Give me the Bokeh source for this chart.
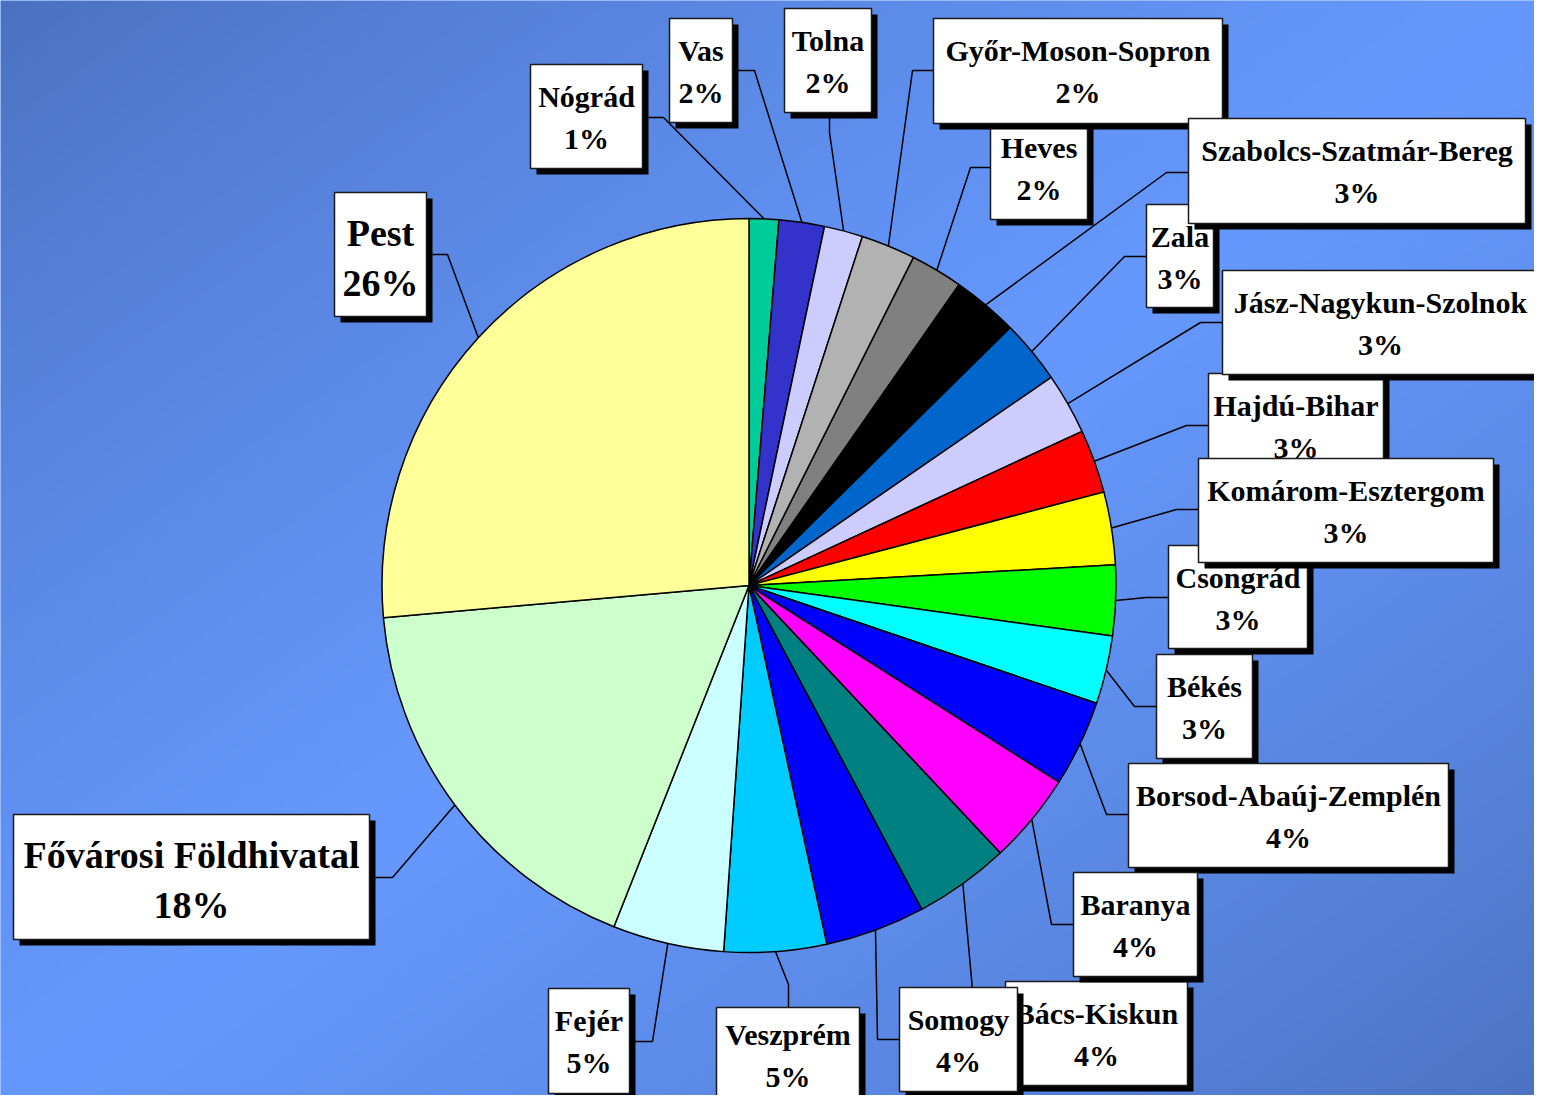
import numpy as np
from bokeh.plotting import figure
from bokeh.models import Range1d, ColumnDataSource
from bokeh.core.properties import value
from bokeh.embed import file_html
from bokeh.resources import INLINE

# ---------------- data (clockwise from 12 o'clock) ----------------
names = ["Nógrád", "Vas", "Tolna", "Győr-Moson-Sopron", "Heves",
         "Szabolcs-Szatmár-Bereg", "Zala", "Jász-Nagykun-Szolnok", "Hajdú-Bihar",
         "Komárom-Esztergom", "Csongrád", "Békés", "Borsod-Abaúj-Zemplén",
         "Baranya", "Bács-Kiskun", "Somogy", "Veszprém", "Fejér",
         "Fővárosi Földhivatal", "Pest"]
shares = [1.3, 2.0, 1.7, 2.4, 2.3,
          2.9, 2.8, 2.7, 2.8,
          3.2, 3.1, 3.0, 3.8,
          4.0, 4.2, 4.4, 4.5, 4.9,
          17.6, 26.4]
pct_labels = ["1%", "2%", "2%", "2%", "2%",
              "3%", "3%", "3%", "3%",
              "3%", "3%", "3%", "4%",
              "4%", "4%", "4%", "5%", "5%",
              "18%", "26%"]

# ---------------- styles ----------------
colors = ["#00CC99", "#3333CC", "#CCCCFF", "#B2B2B2", "#808080",
          "#000000", "#0066CC", "#CCCCFF", "#FF0000",
          "#FFFF00", "#00FF00", "#00FFFF", "#0000FF",
          "#FF00FF", "#008080", "#0000FF", "#00CCFF", "#CCFFFF",
          "#CCFFCC", "#FFFF99"]

# ---------------- layout (pixels from the top-left of the picture) ----------------
H = 1111
W_PLOT, H_PLOT = 1534, 1095
def Y(sy):
    return H - np.asarray(sy, dtype=float)

CX, CY, R = 748.5, 585, 367
# label boxes: left, top, right, bottom
box_l = [530, 669, 784, 933, 990, 1188, 1146, 1222, 1208, 1198, 1168, 1156, 1128, 1073, 1005, 899, 716, 548, 13, 334]
box_t = [64, 18, 8, 18, 115, 118, 204, 270, 373, 458, 545, 654, 763, 872, 981, 987, 1007, 988, 814, 192]
box_r = [642, 732, 871, 1222, 1087, 1525, 1213, 1538, 1383, 1493, 1307, 1252, 1448, 1197, 1187, 1017, 859, 629, 369, 426]
box_b = [168, 122, 112, 123, 219, 223, 307, 374, 477, 562, 648, 758, 867, 976, 1085, 1091, 1111, 1093, 939, 316]
# extra vertical nudge of a label's text (keeps the lowest label inside the frame)
text_dy = [0] * 16 + [-5, 0, 0, 0]
# leader elbows and attach points
elb_x = [663, 754, 829, 912, 970, 1166, 1124, 1200, 1186, 1176, 1146, 1134, 1106, 1051, 976, 877, 788, 652, 392, 447]
elb_y = [117, 70, 132, 70, 167, 172, 256, 322, 425, 509, 597, 706, 814, 924, 1033, 1039, 984, 1041, 877, 254]
att_x = [642, 732, 829, 933, 990, 1188, 1146, 1222, 1208, 1198, 1168, 1156, 1128, 1073, 1005, 899, 788, 629, 369, 426]
att_y = [117, 70, 112, 70, 167, 172, 256, 322, 425, 509, 597, 706, 814, 924, 1033, 1039, 1007, 1041, 877, 254]
big = [False] * 18 + [True, True]
z_order = [4, 6, 8, 10, 14, 0, 1, 2, 3, 5, 7, 9, 11, 12, 13, 15, 16, 17, 18, 19]

p = figure(width=W_PLOT, height=H_PLOT, x_range=Range1d(0, W_PLOT), y_range=Range1d(H - H_PLOT, H),
           output_backend="svg", toolbar_location=None, min_border=0)
p.axis.visible = False
p.grid.visible = False
p.outline_line_color = None
p.background_fill_color = "#6699FF"
p.border_fill_color = "#6699FF"

# ---------------- diagonal gradient background ----------------
nx, ny = 384, 274
gx = (np.arange(nx) + 0.5) * W_PLOT / nx
gy = (H - H_PLOT) + (np.arange(ny) + 0.5) * H_PLOT / ny
GX, GY = np.meshgrid(gx, gy)
SY = H - GY
t = (GX / 1550 + SY / 1111) / 2
f = np.clip(1 - np.abs(2 * t - 1), 0, 1) ** 0.8
dark = np.array([74, 113, 190], dtype=float)
bright = np.array([102, 153, 255], dtype=float)
rgb = dark + (bright - dark) * f[..., None]
img = np.empty((ny, nx), dtype=np.uint32)
view = img.view(dtype=np.uint8).reshape((ny, nx, 4))
view[..., 0] = rgb[..., 0].astype(np.uint8)
view[..., 1] = rgb[..., 1].astype(np.uint8)
view[..., 2] = rgb[..., 2].astype(np.uint8)
view[..., 3] = 255
p.image_rgba(image=[img], x=0, y=H - H_PLOT, dw=W_PLOT, dh=H_PLOT)

# ---------------- pie ----------------
vals = np.array(shares, dtype=float)
frac = vals / vals.sum()
cum = np.concatenate([[0.0], np.cumsum(frac)])
start = np.pi / 2 - 2 * np.pi * cum[1:]
end = np.pi / 2 - 2 * np.pi * cum[:-1]
src = ColumnDataSource(dict(start=start, end=end, color=colors, name=names))
p.wedge(x=CX, y=float(Y(CY)), radius=R, start_angle="start", end_angle="end",
        direction="anticlock", fill_color="color", line_color="black", line_width=1.5,
        source=src)

# ---------------- leader lines ----------------
mid = (cum[:-1] + cum[1:]) / 2
ang = np.pi / 2 - 2 * np.pi * mid
px = CX + R * np.cos(ang)
py = float(Y(CY)) + R * np.sin(ang)
lxs = [[px[i], elb_x[i], att_x[i]] for i in range(len(names))]
lys = [[py[i], float(Y(elb_y[i])), float(Y(att_y[i]))] for i in range(len(names))]
p.multi_line(xs=lxs, ys=lys, line_color="black", line_width=1.5)

# ---------------- label boxes ----------------
for i in z_order:
    off = 6
    p.quad(left=box_l[i] + off, right=box_r[i] + off,
           top=float(Y(box_t[i] + off)), bottom=float(Y(box_b[i] + off)),
           fill_color="black", line_color=None)
    p.quad(left=box_l[i], right=box_r[i], top=float(Y(box_t[i])), bottom=float(Y(box_b[i])),
           fill_color="white", line_color="#1a1a1a", line_width=1.5)
    cxl = (box_l[i] + box_r[i]) / 2
    if big[i]:
        fs, b1, b2 = "38px", 40, 90
    else:
        fs, b1, b2 = "30px", 32, 74
    b1 += text_dy[i]
    b2 += text_dy[i]
    p.text(x=[cxl, cxl], y=[float(Y(box_t[i] + b1)), float(Y(box_t[i] + b2))],
           text=[names[i], pct_labels[i]],
           text_font=value("Liberation Serif"), text_font_style="bold",
           text_font_size=fs, text_align="center", text_baseline="alphabetic",
           text_color="black")

open("out.html", "w").write(file_html(p, INLINE))
